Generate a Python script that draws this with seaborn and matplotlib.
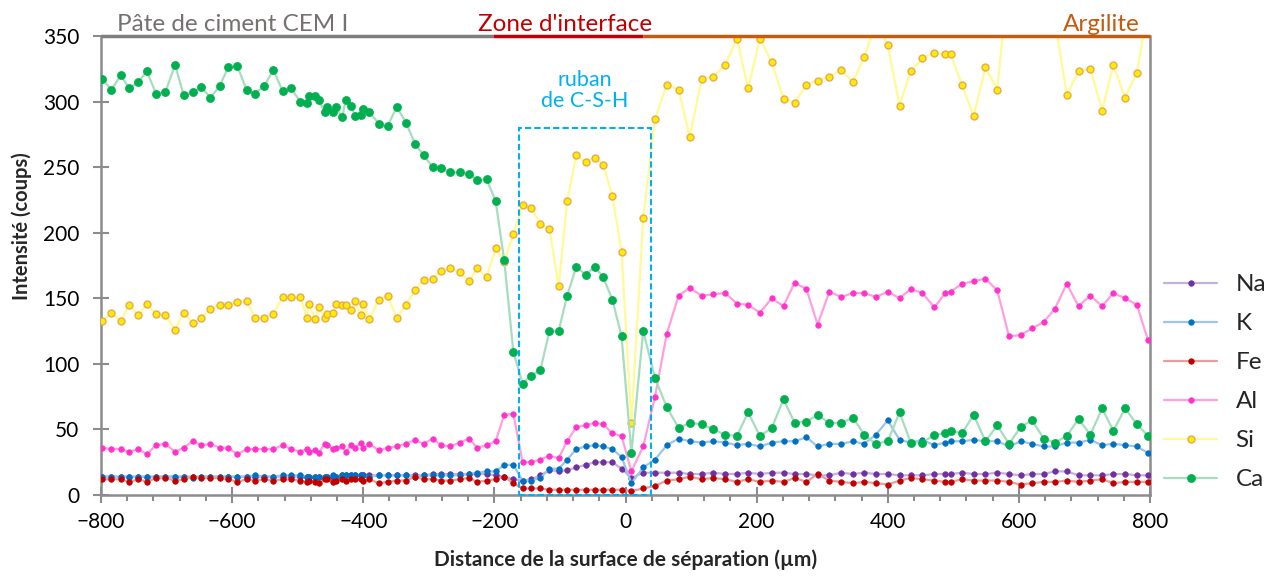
import numpy as np
import pandas as pd
import matplotlib.pyplot as plt
from matplotlib.patches import Rectangle
from matplotlib.ticker import MultipleLocator
import seaborn as sns

# distance de la surface de séparation (µm)
x_um = [-798, -784, -770, -757, -743, -730, -716, -702, -687, -674,
        -660, -647, -633, -619, -606, -592, -578, -565, -551, -537,
        -523, -510, -496, -486, -483, -473, -468, -459, -455, -446,
        -442, -432, -427, -418, -413, -404, -400, -391, -376, -363,
        -349, -335, -321, -308, -294, -281, -267, -253, -239, -226,
        -212, -198, -185, -171, -157, -144, -130, -116, -102, -89,
        -75, -61, -47, -34, -20, -6, 9, 27, 45, 63,
        81, 98, 116, 134, 152, 170, 187, 205, 223, 241,
        258, 276, 293, 311, 329, 347, 364, 382, 400, 418,
        435, 453, 471, 488, 496, 513, 531, 549, 567, 585,
        603, 620, 638, 655, 673, 691, 709, 727, 744, 762,
        780, 797]

na = [14, 14, 14, 14, 14, 14, 14, 14, 14, 14,
      14, 14, 14, 14, 14, 14, 14, 14, 14, 14,
      14, 14, 14, 14, 14, 14, 14, 14, 14, 14,
      14, 15, 15, 15, 15, 15, 15, 15, 15, 15,
      15, 15, 15, 15, 16, 16, 16, 16, 16, 16,
      16, 15, 14, 12, 11, 12, 15, 19, 18, 19,
      21, 23, 25, 25, 25, 20, 13, 17, 17, 17,
      17, 16, 16, 17, 16, 16, 17, 16, 17, 17,
      16, 16, 15, 15, 17, 16, 17, 16, 16, 15,
      15, 15, 16, 16, 16, 17, 16, 16, 17, 16,
      15, 16, 16, 18, 18, 15, 15, 15, 16, 16,
      15, 15]

k = [14, 14, 14, 14, 14, 14, 14, 14, 14, 14,
     13, 14, 14, 14, 14, 14, 14, 15, 14, 14,
     15, 15, 15, 14, 14, 14, 14, 14, 14, 15,
     14, 15, 15, 15, 15, 15, 15, 14, 15, 15,
     15, 15, 14, 15, 15, 15, 15, 15, 16, 17,
     18, 18, 23, 23, 11, 11, 13, 20, 20, 27,
     35, 37, 38, 37, 35, 29, 9, 21, 27, 38,
     43, 41, 40, 41, 40, 38, 39, 37, 40, 41,
     41, 44, 37, 39, 39, 41, 39, 46, 57, 42,
     40, 42, 38, 40, 41, 41, 42, 41, 41, 37,
     41, 39, 37, 37, 40, 40, 42, 38, 39, 38,
     37, 32]

fe = [12, 12, 12, 10, 12, 10, 13, 13, 11, 12,
      14, 13, 13, 13, 12, 10, 12, 11, 12, 11,
      12, 12, 11, 10, 11, 10, 9, 12, 12, 10,
      11, 12, 11, 12, 12, 12, 11, 12, 9, 10,
      11, 11, 14, 12, 12, 11, 11, 12, 13, 10,
      11, 12, 14, 9, 5, 5, 5, 4, 4, 4,
      4, 4, 4, 4, 4, 4, 3, 5, 7, 11,
      12, 14, 12, 13, 12, 10, 12, 10, 11, 10,
      13, 10, 16, 11, 10, 9, 10, 9, 8, 11,
      13, 12, 11, 10, 10, 12, 11, 11, 11, 10,
      8, 9, 10, 10, 11, 10, 11, 12, 9, 10,
      10, 10]

al = [36, 35, 35, 33, 35, 31, 38, 39, 33, 36,
      41, 38, 39, 36, 36, 31, 35, 35, 35, 35,
      38, 35, 33, 35, 33, 34, 32, 39, 38, 35,
      36, 37, 33, 38, 36, 40, 36, 39, 34, 36,
      37, 39, 42, 39, 43, 38, 37, 40, 43, 36,
      38, 41, 61, 62, 25, 25, 27, 30, 28, 41,
      52, 53, 55, 54, 47, 45, 18, 37, 75, 123,
      152, 158, 152, 153, 154, 146, 145, 139, 150, 144,
      162, 157, 130, 155, 151, 154, 154, 151, 155, 150,
      157, 154, 143, 154, 155, 161, 163, 165, 156, 121,
      122, 127, 132, 142, 161, 144, 152, 144, 154, 150,
      145, 118]

si = [133, 139, 133, 145, 137, 146, 138, 137, 126, 139,
      131, 135, 142, 145, 145, 147, 148, 135, 135, 138,
      151, 151, 151, 135, 146, 134, 143, 135, 138, 139,
      146, 145, 145, 141, 148, 137, 146, 134, 149, 152,
      135, 145, 156, 164, 165, 171, 173, 170, 163, 173,
      166, 188, 178, 199, 221, 219, 207, 203, 159, 224,
      259, 254, 257, 252, 228, 185, 55, 211, 287, 313,
      309, 273, 317, 319, 328, 348, 310, 348, 330, 302,
      299, 313, 316, 319, 324, 315, 334, 360, 343, 297,
      323, 333, 337, 336, 336, 313, 289, 326, 309, 400,
      410, 390, 405, 362, 305, 323, 325, 293, 328, 303,
      322, 372]

ca = [317, 309, 320, 310, 315, 323, 306, 307, 328, 305,
      307, 311, 303, 312, 326, 327, 309, 306, 312, 324,
      308, 310, 300, 299, 304, 304, 301, 292, 296, 292,
      296, 288, 301, 297, 289, 290, 294, 292, 283, 281,
      296, 284, 268, 259, 250, 249, 246, 246, 245, 240,
      241, 224, 179, 109, 85, 91, 95, 125, 125, 152,
      174, 168, 174, 166, 149, 121, 32, 125, 89, 67,
      51, 55, 54, 50, 46, 45, 63, 45, 51, 73,
      55, 56, 61, 55, 55, 59, 46, 39, 41, 63,
      40, 40, 46, 47, 49, 47, 61, 41, 53, 39,
      52, 57, 43, 40, 45, 58, 46, 66, 49, 66,
      54, 45]

elements = ["Na", "K", "Fe", "Al", "Si", "Ca"]
valeurs = {"Na": na, "K": k, "Fe": fe, "Al": al, "Si": si, "Ca": ca}

df = pd.concat([pd.DataFrame({"Distance": x_um, "Intensité": valeurs[el], "Élément": el})
                for el in elements], ignore_index=True)

# couleur de la ligne, remplissage / bord du marqueur, taille et bord du marqueur
styles = {
    "Na": ("#C2B2DC", "#7030A0", "#7030A0", 4.0, 0.5),
    "K":  ("#9CC5E8", "#0070C0", "#0070C0", 4.0, 0.5),
    "Fe": ("#E89C9C", "#C00000", "#C00000", 4.0, 0.5),
    "Al": ("#FF9FDD", "#FF33CC", "#FF33CC", 4.0, 0.5),
    "Si": ("#FFFA96", "#FFEE00", "#E8A850", 5.0, 1.0),
    "Ca": ("#A6DDBF", "#00B050", "#00B050", 5.8, 0.5),
}

sns.set_theme(style="white")
plt.rcParams["font.family"] = ["Lato", "DejaVu Sans"]

fig = plt.figure(figsize=(12.77, 5.76), dpi=100)
ax = fig.add_axes([101 / 1277, 81 / 576, 1049 / 1277, 459 / 576])

for i, el in enumerate(elements):
    lc, fc, ec, ms, mew = styles[el]
    sns.lineplot(data=df[df["Élément"] == el], x="Distance", y="Intensité", ax=ax,
                 color=lc, linewidth=1.6, marker="o", markersize=ms,
                 markerfacecolor=fc, markeredgecolor=ec, markeredgewidth=mew,
                 estimator=None, errorbar=None, sort=False, label=el, zorder=3 + i)

gris = "#8C8C8C"
ax.set_xlim(-800, 800)
ax.set_ylim(0, 350)
ax.xaxis.set_major_locator(MultipleLocator(200))
ax.xaxis.set_minor_locator(MultipleLocator(40))
ax.yaxis.set_major_locator(MultipleLocator(50))
ax.tick_params(axis="both", which="major", direction="inout", length=11, width=1.5,
               color=gris, labelsize=15, labelcolor="black", bottom=True, left=True)
ax.tick_params(axis="y", which="major", pad=10)
ax.tick_params(axis="x", which="major", pad=7)
ax.tick_params(axis="x", which="minor", direction="out", length=4, width=1.5,
               color=gris, bottom=True)

for side in ["left", "bottom", "right"]:
    ax.spines[side].set_color(gris)
    ax.spines[side].set_linewidth(1.8)
ax.spines["top"].set_visible(False)

# bandeau supérieur des zones
for x0, x1, c in [(-800, -202, "#7F7F7F"), (-202, 27, "#C00000"), (27, 800, "#C55A11")]:
    ax.plot([x0, x1], [350, 350], color=c, lw=2.5, clip_on=False,
            solid_capstyle="butt", zorder=20)

ax.text(-776, 353.5, "Pâte de ciment CEM I", color="#767171", fontsize=17.5,
        ha="left", va="baseline")
ax.text(-92, 353.5, "Zone d'interface", color="#C00000", fontsize=17.5,
        ha="center", va="baseline")
ax.text(785, 353.5, "Argilite", color="#C55A11", fontsize=17.5,
        ha="right", va="baseline")

# ruban de C-S-H
ax.add_patch(Rectangle((-162, 0), 201, 280, fill=False, edgecolor="#00B0F0",
                       lw=1.5, linestyle=(0, (3, 1.5)), zorder=30, clip_on=False))
ax.text(-62, 311.5, "ruban", color="#00B0F0", fontsize=15.5, ha="center", va="baseline")
ax.text(-62, 295.5, "de C-S-H", color="#00B0F0", fontsize=15.5, ha="center", va="baseline")

ax.set_xlabel("Distance de la surface de séparation (µm)", fontsize=15,
              fontweight="bold", labelpad=12)
ax.set_ylabel("Intensité (coups)", fontsize=14.5, fontweight="bold")
ax.yaxis.set_label_coords(-0.066, 0.585)

handles, labels = ax.get_legend_handles_labels()
ax.legend(handles, labels, loc="upper left", bbox_to_anchor=(0.9115, 0.524),
          bbox_transform=fig.transFigure, frameon=False, fontsize=17.5,
          handlelength=2.2, handletextpad=0.75, labelspacing=0.74,
          borderpad=0, borderaxespad=0)

fig.savefig("out.png", dpi=100)
plt.close(fig)
